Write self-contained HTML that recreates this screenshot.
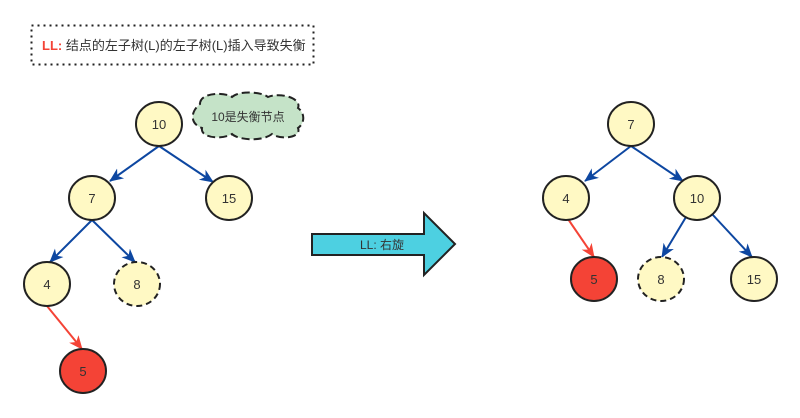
<!DOCTYPE html>
<html><head><meta charset="utf-8"><style>
html,body{margin:0;padding:0;background:#fff;}
svg{display:block;}
text{font-family:"Liberation Sans","Noto Sans CJK SC",sans-serif;fill:#333;}
</style></head><body>
<svg width="800" height="418" viewBox="0 0 800 418" xmlns="http://www.w3.org/2000/svg">
<defs>
<marker id="ab" markerWidth="14" markerHeight="14" refX="13" refY="7" orient="auto" markerUnits="userSpaceOnUse"><path d="M0,1 L14,7 L0,13 L4,7 Z" fill="#0d47a1"/></marker>
<marker id="ar" markerWidth="14" markerHeight="14" refX="13" refY="7" orient="auto" markerUnits="userSpaceOnUse"><path d="M0,1 L14,7 L0,13 L4,7 Z" fill="#f44336"/></marker>
</defs>
<rect x="31.5" y="25.5" width="282" height="39" fill="#fff" stroke="#222" stroke-width="2" stroke-dasharray="2,4"/>
<text x="42" y="50" font-size="13"><tspan fill="#f44336" font-weight="bold">LL:</tspan> 结点的左子树(L)的左子树(L)插入导致失衡</text>

<path d="M200,104 C200,92 225,92 232,97 C240,90 262,92 268,97 C280,92 302,98 298,108 C306,114 304,124 298,128 C302,138 280,140 272,134 C262,142 238,140 232,134 C222,140 200,138 202,128 C190,124 190,112 200,104 Z" fill="#c5e3c8" stroke="#222" stroke-width="2" stroke-dasharray="8,4"/>
<text x="248" y="121" font-size="12" text-anchor="middle">10是失衡节点</text>

<g stroke-width="2" fill="none">
<line x1="159" y1="146" x2="110" y2="181" stroke="#0d47a1" marker-end="url(#ab)"/>
<line x1="159" y1="146" x2="213" y2="182" stroke="#0d47a1" marker-end="url(#ab)"/>
<line x1="92" y1="220" x2="50" y2="262" stroke="#0d47a1" marker-end="url(#ab)"/>
<line x1="92" y1="220" x2="135" y2="262" stroke="#0d47a1" marker-end="url(#ab)"/>
<line x1="47" y1="306" x2="82" y2="349" stroke="#f44336" marker-end="url(#ar)"/>

<line x1="631" y1="146" x2="585" y2="181" stroke="#0d47a1" marker-end="url(#ab)"/>
<line x1="631" y1="146" x2="683" y2="181" stroke="#0d47a1" marker-end="url(#ab)"/>
<line x1="568" y1="219" x2="594" y2="257" stroke="#f44336" marker-end="url(#ar)"/>
<line x1="686" y1="217" x2="662" y2="257" stroke="#0d47a1" marker-end="url(#ab)"/>
<line x1="712" y1="214" x2="752" y2="257" stroke="#0d47a1" marker-end="url(#ab)"/>
</g>

<g stroke="#222" stroke-width="2" font-size="13">
<ellipse cx="159" cy="124" rx="23" ry="22" fill="#fff9c4"/>
<ellipse cx="92" cy="198" rx="23" ry="22" fill="#fff9c4"/>
<ellipse cx="229" cy="198" rx="23" ry="22" fill="#fff9c4"/>
<ellipse cx="47" cy="284" rx="23" ry="22" fill="#fff9c4"/>
<ellipse cx="137" cy="284" rx="23" ry="22" fill="#fff9c4" stroke-dasharray="6,4"/>
<ellipse cx="83" cy="371" rx="23" ry="22" fill="#f44336"/>
<ellipse cx="631" cy="124" rx="23" ry="22" fill="#fff9c4"/>
<ellipse cx="566" cy="198" rx="23" ry="22" fill="#fff9c4"/>
<ellipse cx="697" cy="198" rx="23" ry="22" fill="#fff9c4"/>
<ellipse cx="594" cy="279" rx="23" ry="22" fill="#f44336"/>
<ellipse cx="661" cy="279" rx="23" ry="22" fill="#fff9c4" stroke-dasharray="6,4"/>
<ellipse cx="754" cy="279" rx="23" ry="22" fill="#fff9c4"/>
</g>
<g font-size="13" text-anchor="middle">
<text x="159" y="129">10</text><text x="92" y="203">7</text><text x="229" y="203">15</text>
<text x="47" y="289">4</text><text x="137" y="289">8</text><text x="83" y="376">5</text>
<text x="631" y="129">7</text><text x="566" y="203">4</text><text x="697" y="203">10</text>
<text x="594" y="284">5</text><text x="661" y="284">8</text><text x="754" y="284">15</text>
</g>

<path d="M312,234 L424,234 L424,213 L455,244 L424,275 L424,255 L312,255 Z" fill="#4dd0e1" stroke="#222" stroke-width="2"/>
<text x="382" y="249" font-size="12" text-anchor="middle">LL: 右旋</text>
</svg>
</body></html>
